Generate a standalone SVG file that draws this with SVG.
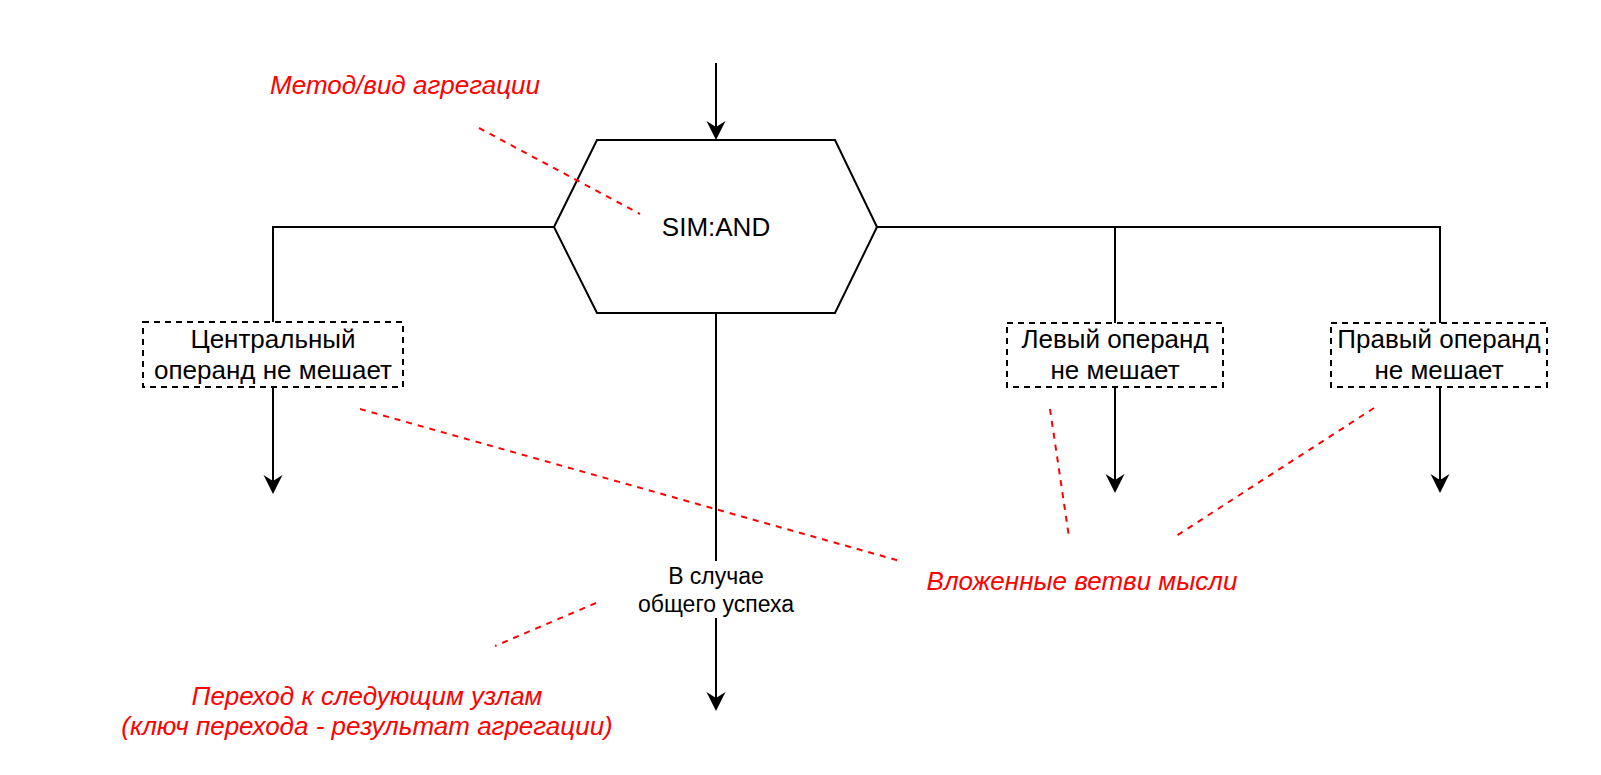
<svg xmlns="http://www.w3.org/2000/svg" width="1601" height="775" viewBox="0 0 1601 775">
<style>
.ln{fill:none;stroke:#000;stroke-width:2}
.box{fill:#fff;stroke:#000;stroke-width:2;stroke-dasharray:6 5}
.hex{fill:#fff;stroke:#000;stroke-width:2}
.note{fill:none;stroke:#ff0000;stroke-width:2;stroke-dasharray:6 6}
.t{font-family:"Liberation Sans",Arial,sans-serif;font-size:26px;fill:#000;text-anchor:middle}
.lbl{font-family:"Liberation Sans",Arial,sans-serif;font-size:23px;fill:#000;text-anchor:middle}
.r{font-family:"Liberation Sans",Arial,sans-serif;font-size:26px;font-style:italic;fill:#ff0000;text-anchor:middle}
</style>
<defs>
<marker id="arr" markerUnits="userSpaceOnUse" markerWidth="20" markerHeight="20" viewBox="-20 -10 20 20" refX="-10" refY="0" orient="auto">
<path d="M0,0 L-19,-9.5 L-13,0 L-19,9.5 Z" fill="#000"/>
</marker>
</defs>
<rect width="1601" height="775" fill="#fff"/>
<g id="connectors">
<path class="ln" d="M716,63 V130" marker-end="url(#arr)"/>
<path class="ln" d="M554,227 H273 V322"/>
<path class="ln" d="M273,387 V484" marker-end="url(#arr)"/>
<path class="ln" d="M877,227 H1440 V323"/>
<path class="ln" d="M1115,227 V323"/>
<path class="ln" d="M1115,387 V483" marker-end="url(#arr)"/>
<path class="ln" d="M1440,387 V483" marker-end="url(#arr)"/>
<path class="ln" d="M716,313 V561 M716,618 V701" marker-end="url(#arr)"/>
<text class="lbl" x="716" y="584">В случае</text>
<text class="lbl" x="716" y="612">общего успеха</text>
</g>
<g id="agg">
<polygon class="hex" points="554,227 597,140 835,140 877,227 835,313 597,313"/>
<text class="t" x="716" y="236">SIM:AND</text>
</g>
<g id="central">
<rect class="box" x="143" y="322" width="260" height="65"/>
<text class="t" x="273" y="348">Центральный</text>
<text class="t" x="273" y="379">операнд не мешает</text>
</g>
<g id="left">
<rect class="box" x="1007" y="323" width="216" height="64"/>
<text class="t" x="1115" y="348">Левый операнд</text>
<text class="t" x="1115" y="379">не мешает</text>
</g>
<g id="right">
<rect class="box" x="1331" y="323" width="216" height="64"/>
<text class="t" x="1439" y="348">Правый операнд</text>
<text class="t" x="1439" y="379">не мешает</text>
</g>
<g id="notes">
<path class="note" d="M479,128 L640,214"/>
<path class="note" d="M360,409 L900,561"/>
<path class="note" d="M1050,409 L1069,537"/>
<path class="note" d="M1374,408 L1173,538"/>
<path class="note" d="M596,603 L495,646"/>
<text class="r" x="405" y="94">Метод/вид агрегации</text>
<text class="r" x="1082" y="590">Вложенные ветви мысли</text>
<text class="r" x="367" y="705">Переход к следующим узлам</text>
<text class="r" x="367" y="735">(ключ перехода - результат агрегации)</text>
</g>
</svg>
